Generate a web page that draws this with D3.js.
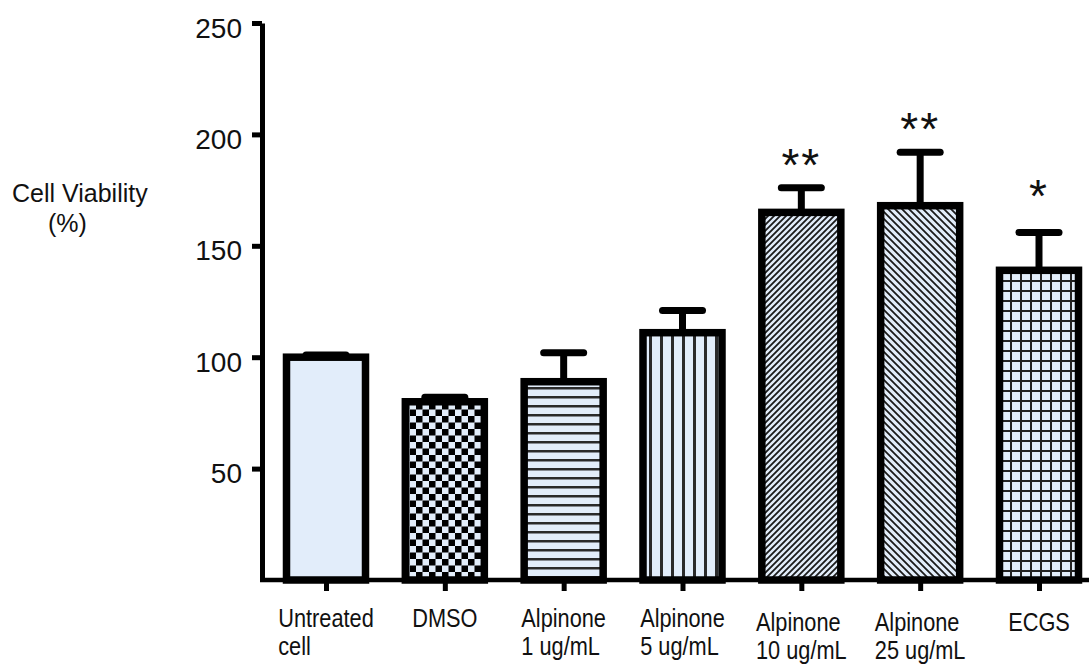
<!DOCTYPE html>
<html>
<head>
<meta charset="utf-8">
<script src="https://cdn.jsdelivr.net/npm/d3@7"></script>
<style>
  body { margin: 0; background: #fff; }
  text { font-family: "Liberation Sans", Arial, sans-serif; fill: #111; }
</style>
</head>
<body>
<div id="chart"></div>
<script>
// values
var categories = [
  ["Untreated", "cell"],
  ["DMSO"],
  ["Alpinone", "1 ug/mL"],
  ["Alpinone", "5 ug/mL"],
  ["Alpinone", "10 ug/mL"],
  ["Alpinone", "25 ug/mL"],
  ["ECGS"]
];
var means = [100, 80, 89, 111, 165, 168, 139];
var errs = [1, 2, 13, 10, 11, 24, 17];
var stars = ["", "", "", "", "**", "**", "*"];
var starLevel = [null, null, null, null, 190, 206, 176];
var fills = ["solid", "checker", "hlines", "vlines", "diagup", "diagdown", "grid"];
var yTicks = [50, 100, 150, 200, 250];

var width = 1089, height = 664;
var axisX = 262;
var barW = 79;
var light = "#e2edfa";

var svg = d3.select("#chart").append("svg")
  .attr("width", width)
  .attr("height", height);

var x = d3.scalePoint()
  .domain(d3.range(categories.length))
  .range([326, 1039]);

var y = d3.scaleLinear()
  .domain([0, 250])
  .range([580, 23]);

// hatch patterns
var defs = svg.append("defs");
function pattern(id, size) {
  var p = defs.append("pattern")
    .attr("id", id)
    .attr("patternUnits", "userSpaceOnUse")
    .attr("width", size)
    .attr("height", size);
  p.append("rect").attr("width", size).attr("height", size).attr("fill", light);
  return p;
}
var ck = pattern("checker", 13);
ck.append("rect").attr("width", 6.5).attr("height", 6.5).attr("fill", "#000");
ck.append("rect").attr("x", 6.5).attr("y", 6.5).attr("width", 6.5).attr("height", 6.5).attr("fill", "#000");

var hl = pattern("hlines", 9);
hl.append("rect").attr("y", 0).attr("width", 9).attr("height", 2.5).attr("fill", "#2a2a2a");

var vl = pattern("vlines", 11);
vl.append("rect").attr("x", 0).attr("width", 3).attr("height", 11).attr("fill", "#2a2a2a");

var du = pattern("diagup", 6);
du.append("path").attr("d", "M-1,1 l2,-2 M0,6 l6,-6 M5,7 l2,-2")
  .attr("stroke", "#1a1a1a").attr("stroke-width", 1.8);

var dd = pattern("diagdown", 7);
dd.append("path").attr("d", "M-1,-1 l2,2 M0,0 l7,7 M6,-1 l2,2 M-1,6 l2,2")
  .attr("stroke", "#1a1a1a").attr("stroke-width", 1.8);

var gr = pattern("grid", 10);
gr.append("rect").attr("width", 2).attr("height", 10).attr("fill", "#222");
gr.append("rect").attr("width", 10).attr("height", 2).attr("fill", "#222");

// error bars
var eb = svg.append("g").attr("class", "errors");
eb.selectAll("line.stem").data(means)
  .enter().append("line")
  .attr("class", "stem")
  .attr("x1", function(d, i) { return x(i); })
  .attr("x2", function(d, i) { return x(i); })
  .attr("y1", function(d) { return y(d); })
  .attr("y2", function(d, i) { return y(d + errs[i]); })
  .attr("stroke", "#000")
  .attr("stroke-width", 7);
eb.selectAll("line.cap").data(means)
  .enter().append("line")
  .attr("class", "cap")
  .attr("x1", function(d, i) { return x(i) - 20; })
  .attr("x2", function(d, i) { return x(i) + 20; })
  .attr("y1", function(d, i) { return y(d + errs[i]); })
  .attr("y2", function(d, i) { return y(d + errs[i]); })
  .attr("stroke", "#000")
  .attr("stroke-width", 7)
  .attr("stroke-linecap", "round");

// bars
svg.append("g").selectAll("rect").data(means)
  .enter().append("rect")
  .attr("x", function(d, i) { return x(i) - barW / 2; })
  .attr("y", function(d) { return y(d); })
  .attr("width", barW)
  .attr("height", function(d) { return y(0) - y(d); })
  .attr("fill", function(d, i) { return fills[i] === "solid" ? light : "url(#" + fills[i] + ")"; })
  .attr("stroke", "#000")
  .attr("stroke-width", 7.5);

// y axis
var yAxis = svg.append("g")
  .attr("transform", "translate(" + axisX + ",0)")
  .call(d3.axisLeft(y).tickValues(yTicks).tickSize(10).tickSizeOuter(0).tickPadding(10));
yAxis.select(".domain").attr("stroke-width", 5);
yAxis.selectAll(".tick line").attr("stroke-width", 5);
yAxis.selectAll(".tick text")
  .attr("font-size", 28)
  .attr("font-family", "'Liberation Sans', Arial, sans-serif")
  .attr("fill", "#111")
  .attr("dy", "0.5em");

// x axis
var xAxis = svg.append("g")
  .attr("transform", "translate(0," + y(0) + ")")
  .call(d3.axisBottom(x).tickSize(11).tickFormat(""));
xAxis.select(".domain").remove();
xAxis.selectAll(".tick line").attr("stroke-width", 5);
svg.append("line")
  .attr("x1", axisX - 2).attr("x2", width)
  .attr("y1", y(0)).attr("y2", y(0))
  .attr("stroke", "#000").attr("stroke-width", 4.5);

// category labels
var labels = svg.append("g").selectAll("g").data(categories)
  .enter().append("g")
  .attr("transform", function(d, i) { return "translate(" + x(i) + "," + (i >= 4 ? 631 : 627) + ")"; });
labels.each(function(d) {
  var g = d3.select(this);
  var t = g.append("text").attr("font-size", 25);
  d.forEach(function(line, k) {
    t.append("tspan").attr("x", 0).attr("y", k * 28).text(line);
  });
  var w = d3.max(t.selectAll("tspan").nodes(), function(n) { return n.getComputedTextLength(); });
  t.attr("transform", "scale(0.87,1) translate(" + (-w / 2) + ",0)");
});

// significance stars
svg.append("g").selectAll("text").data(stars)
  .enter().append("text")
  .attr("x", function(d, i) { return x(i); })
  .attr("y", function(d, i) { return starLevel[i] === null ? 0 : y(starLevel[i]) + 24; })
  .attr("text-anchor", "middle")
  .attr("font-size", 46)
  .attr("letter-spacing", 2)
  .text(function(d) { return d; });

// y axis title
var yt = svg.append("text").attr("font-size", 25);
yt.append("tspan").attr("x", 12).attr("y", 202).text("Cell Viability");
yt.append("tspan").attr("x", 48).attr("y", 232).text("(%)");
</script>
</body>
</html>
